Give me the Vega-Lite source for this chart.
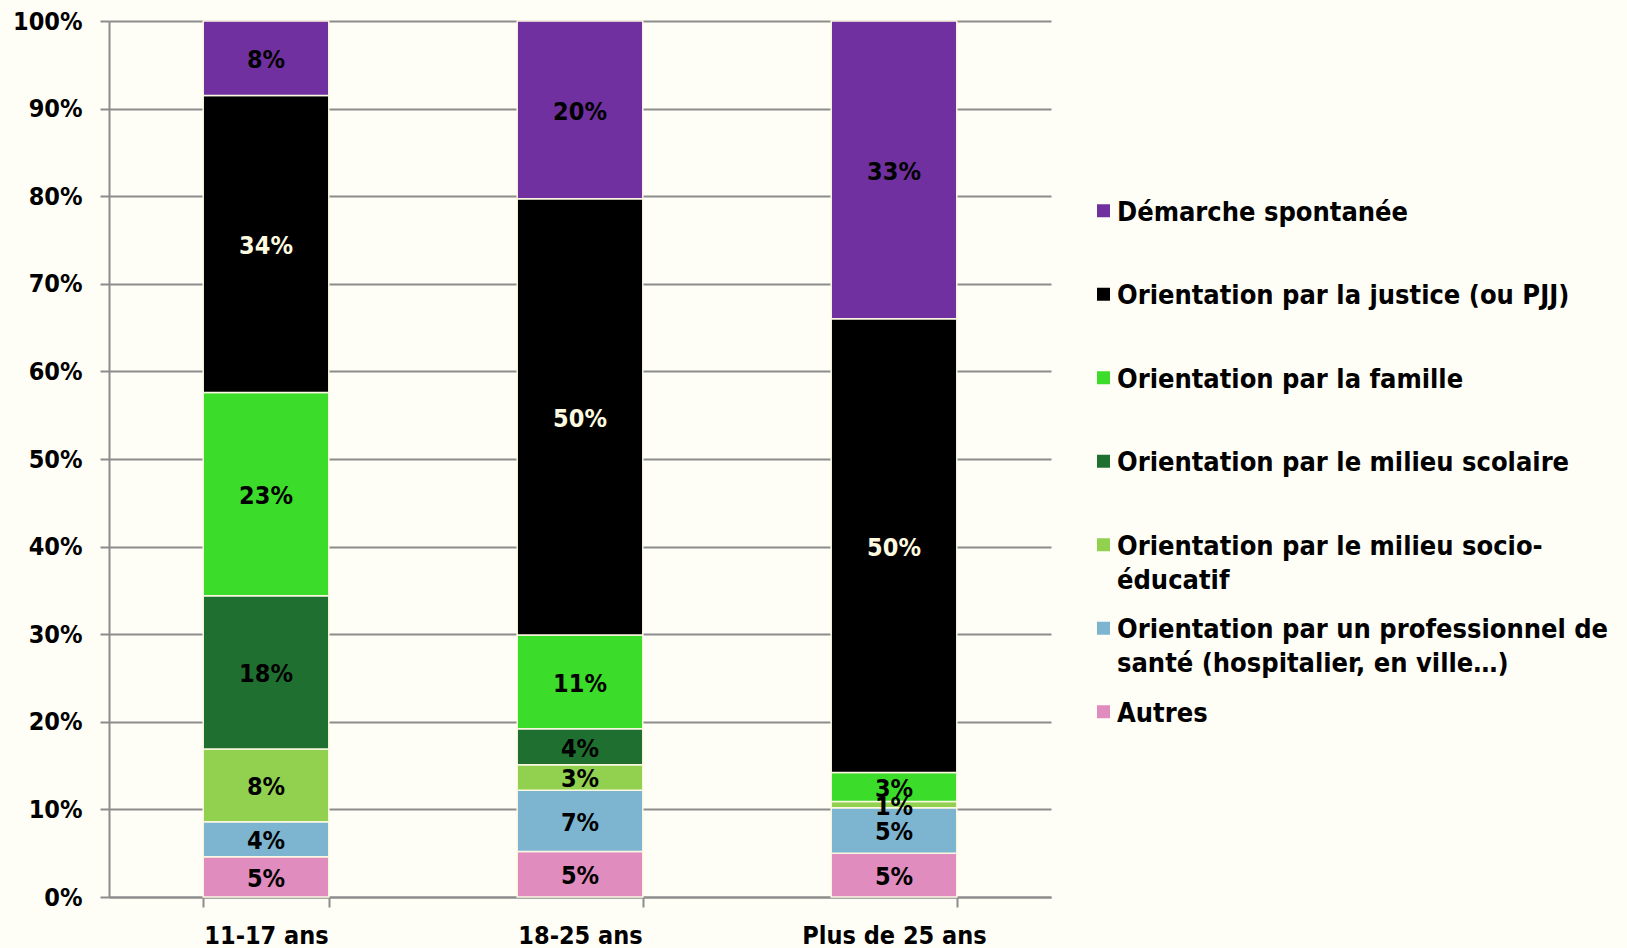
{
  "$schema": "https://vega.github.io/schema/vega-lite/v6.json",
  "width": 942,
  "height": 876,
  "autosize": {"type": "none"},
  "padding": {"left": 109, "top": 21, "right": 576, "bottom": 51},
  "background": "#FFFEF6",
  "config": {
    "view": {"stroke": null},
    "font": "DejaVu Sans Condensed",
    "style": {"guide-label": {"lineHeight": 34}}
  },
  "data": {
    "values": [
      {"age": "11-17 ans", "source": "Autres", "k": 1, "pct": 4.6, "label": "5%"},
      {"age": "11-17 ans", "source": "Orientation par un professionnel de santé (hospitalier, en ville…)", "k": 2, "pct": 4.0, "label": "4%"},
      {"age": "11-17 ans", "source": "Orientation par le milieu socio-éducatif", "k": 3, "pct": 8.3, "label": "8%"},
      {"age": "11-17 ans", "source": "Orientation par le milieu scolaire", "k": 4, "pct": 17.5, "label": "18%"},
      {"age": "11-17 ans", "source": "Orientation par la famille", "k": 5, "pct": 23.2, "label": "23%"},
      {"age": "11-17 ans", "source": "Orientation par la justice (ou PJJ)", "k": 6, "pct": 33.9, "label": "34%"},
      {"age": "11-17 ans", "source": "Démarche spontanée", "k": 7, "pct": 8.5, "label": "8%"},
      {"age": "18-25 ans", "source": "Autres", "k": 1, "pct": 5.2, "label": "5%"},
      {"age": "18-25 ans", "source": "Orientation par un professionnel de santé (hospitalier, en ville…)", "k": 2, "pct": 7.0, "label": "7%"},
      {"age": "18-25 ans", "source": "Orientation par le milieu socio-éducatif", "k": 3, "pct": 2.9, "label": "3%"},
      {"age": "18-25 ans", "source": "Orientation par le milieu scolaire", "k": 4, "pct": 4.1, "label": "4%"},
      {"age": "18-25 ans", "source": "Orientation par la famille", "k": 5, "pct": 10.7, "label": "11%"},
      {"age": "18-25 ans", "source": "Orientation par la justice (ou PJJ)", "k": 6, "pct": 49.8, "label": "50%"},
      {"age": "18-25 ans", "source": "Démarche spontanée", "k": 7, "pct": 20.3, "label": "20%"},
      {"age": "Plus de 25 ans", "source": "Autres", "k": 1, "pct": 5.0, "label": "5%"},
      {"age": "Plus de 25 ans", "source": "Orientation par un professionnel de santé (hospitalier, en ville…)", "k": 2, "pct": 5.2, "label": "5%"},
      {"age": "Plus de 25 ans", "source": "Orientation par le milieu socio-éducatif", "k": 3, "pct": 0.7, "label": "1%"},
      {"age": "Plus de 25 ans", "source": "Orientation par la famille", "k": 5, "pct": 3.3, "label": "3%"},
      {"age": "Plus de 25 ans", "source": "Orientation par la justice (ou PJJ)", "k": 6, "pct": 51.8, "label": "50%"},
      {"age": "Plus de 25 ans", "source": "Démarche spontanée", "k": 7, "pct": 34.0, "label": "33%"}
    ]
  },
  "transform": [
    {"stack": "pct", "groupby": ["age"], "sort": [{"field": "k", "order": "ascending"}], "as": ["y0", "y1"]},
    {"calculate": "(datum.y0 + datum.y1) / 2", "as": "ymid"}
  ],
  "encoding": {
    "x": {
      "field": "age",
      "type": "nominal",
      "sort": ["11-17 ans", "18-25 ans", "Plus de 25 ans"],
      "scale": {"paddingInner": 0.6, "paddingOuter": 0.3},
      "axis": {
        "title": null,
        "labelAngle": 0,
        "labelLimit": 400,
        "tickBand": "extent",
        "tickSize": 10,
        "tickWidth": 2,
        "tickColor": "#8C8C8C",
        "domainColor": "#8C8C8C",
        "domainWidth": 2,
        "labelPadding": 16,
        "labelFontSize": 25,
        "labelFontWeight": "bold",
        "labelColor": "#000000",
        "grid": false
      }
    }
  },
  "layer": [
    {
      "mark": {"type": "bar", "stroke": "#FBF8E2", "strokeWidth": 1.5},
      "encoding": {
        "y": {
          "field": "y0",
          "type": "quantitative",
          "scale": {"domain": [0, 100], "nice": false},
          "axis": {
            "title": null,
            "values": [0, 10, 20, 30, 40, 50, 60, 70, 80, 90, 100],
            "labelExpr": "datum.value + '%'",
            "grid": true,
            "gridColor": "#8C8C8C",
            "gridWidth": 2,
            "domainColor": "#8C8C8C",
            "domainWidth": 2,
            "tickColor": "#8C8C8C",
            "tickWidth": 2,
            "tickSize": 9,
            "labelPadding": 18,
            "labelFontSize": 25,
            "labelFontWeight": "bold",
            "labelColor": "#000000"
          }
        },
        "y2": {"field": "y1"},
        "color": {
          "field": "source",
          "type": "nominal",
          "scale": {
            "domain": [
              "Démarche spontanée",
              "Orientation par la justice (ou PJJ)",
              "Orientation par la famille",
              "Orientation par le milieu scolaire",
              "Orientation par le milieu socio-éducatif",
              "Orientation par un professionnel de santé (hospitalier, en ville…)",
              "Autres"
            ],
            "range": ["#7030A0", "#000000", "#3CDC2A", "#1F6F30", "#92D050", "#7DB5D1", "#E08CBE"]
          },
          "legend": {
            "orient": "none",
            "legendX": 981,
            "legendY": 165,
            "title": null,
            "padding": 0,
            "symbolType": "M-1,0.73H1V2.73H-1Z",
            "symbolSize": 169,
            "symbolStrokeWidth": 0,
            "labelFontSize": 27,
            "labelFontWeight": "bold",
            "labelColor": "#000000",
            "labelBaseline": "top",
            "labelLimit": 700,
            "labelOffset": 0,
            "rowPadding": 9.5,
            "labelExpr": "datum.label == 'Orientation par le milieu socio-éducatif' ? ['Orientation par le milieu socio-', 'éducatif'] : datum.label == 'Orientation par un professionnel de santé (hospitalier, en ville…)' ? ['Orientation par un professionnel de', 'santé (hospitalier, en ville…)'] : [datum.label, '']"
          }
        }
      }
    },
    {
      "mark": {"type": "text", "fontSize": 25, "fontWeight": "bold", "dy": 2},
      "encoding": {
        "y": {"field": "ymid", "type": "quantitative"},
        "text": {"field": "label"},
        "color": {
          "condition": {"test": "datum.source === 'Orientation par la justice (ou PJJ)'", "value": "#FFFBE0"},
          "value": "#000000"
        }
      }
    }
  ]
}
